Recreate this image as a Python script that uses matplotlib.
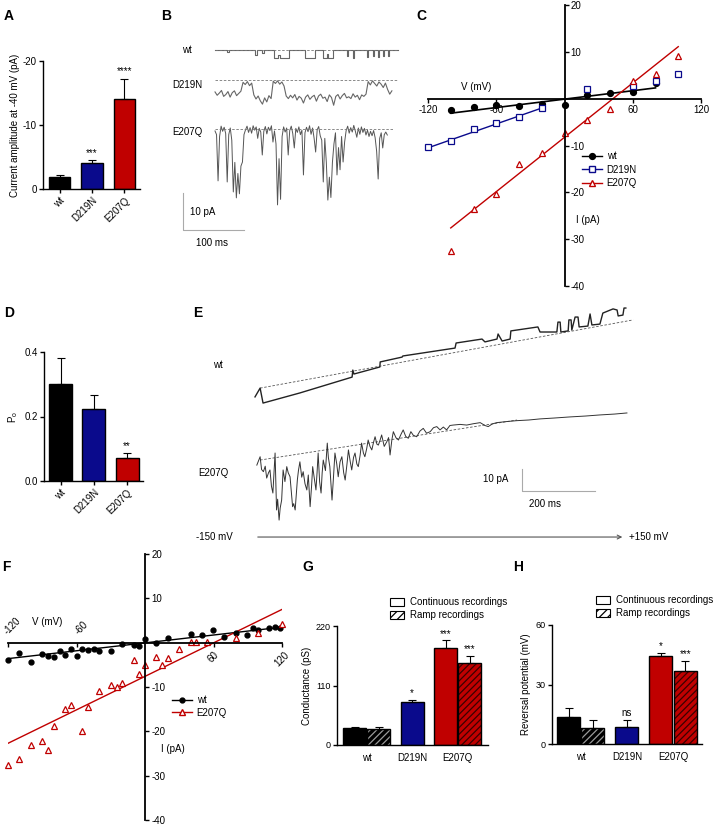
import numpy as np
import matplotlib
matplotlib.use('Agg')
import matplotlib.pyplot as plt
from matplotlib.lines import Line2D
from matplotlib.patches import Patch

plt.rcParams['font.family'] = ['Liberation Sans', 'DejaVu Sans']
plt.rcParams['font.size'] = 7
plt.rcParams['axes.linewidth'] = 1.0
plt.rcParams['axes.unicode_minus'] = False
plt.rcParams['hatch.linewidth'] = 0.9

W, H = 720, 826
BLACK, BLUE, RED = '#000000', '#0a0a8c', '#c00000'
cols = [BLACK, BLUE, RED]

# ---------------- data ----------------
groups = ['wt', 'D219N', 'E207Q']

# A: current amplitude at -40 mV (pA)
amp_mean = [-1.8, -4.1, -14.1]
amp_err = [0.4, 0.4, 3.1]
amp_stars = ['', '***', '****']

# B: single channel traces (ms, pA)
b_wt_t = [0, 20, 23, 66, 69, 77, 80, 97, 104, 106, 121, 148, 164, 177, 184, 186,
          193, 216, 218, 226, 228, 249, 251, 259, 261, 267, 269, 275, 277, 284, 286, 300]
b_wt_i = [0, -0.6, 0, -1.3, 0, -0.8, 0, -2.2, -1.2, -2.2, 0, -2.2, 0, -2.2, -1.0, -2.2,
          0, -1.5, 0, -2.0, 0, -1.8, 0, -1.5, 0, -1.8, 0, -1.5, 0, -1.5, 0, 0]
b_d219n = [-3.2, -4.1, -3.5, -2.8, -4.4, -3.9, -3.1, -4.6, -3.4, -2.9, -4.2, -3.6, -3.0,
           -0.6, -1.2, -0.4, -1.5, -0.8,
           -4.0, -5.1, -4.3, -5.6, -6.5, -4.8, -5.9, -4.2, -5.0,
           -0.3, -0.9, -0.2, -1.1, -0.5, -1.6,
           -4.3, -5.0, -4.1, -4.8, -3.9, -5.4, -4.4, -4.9, -6.2, -4.6, -4.0, -5.2, -4.5,
           -4.1, -5.7, -4.3, -3.8, -4.9, -4.6, -5.8, -4.0, -4.7, -6.8, -4.4, -3.9, -5.1,
           -4.2, -3.6, -4.8, -4.5, -5.0, -3.7, -4.6, -4.1, -5.3, -4.0, -4.4, -3.8,
           -0.4, -1.3, -0.2, -0.9, -1.6, -0.5, -1.1, -2.0, -0.8,
           -2.5, -3.8, -2.9]
b_e207q = [-0.5, -1.5, -14, -2, 0.8, -0.6, 0.5, -1.2, -14.3, -1.5, 0.3, -3, -17, -9,
           -18.6, -12, -17.5, -10, -8.9, -1.5, -0.2, 0.8, -0.9, 0.4, -1.1, 0.9, -0.3,
           0.6, -2.5, 0.2, -0.8, -7, -0.6, 0.7, -1.3, 0.5, -0.4, 0.9, -3.5, -0.5, -4,
           -20.5, -8, -19, -2, 0.6, -0.8, 0.3, -7, -0.4, 0.8, -1.2, -5.1, 0.2, -0.9,
           0.6, -1.5, -0.3, -12.4, -1, 0.5, -0.7, 0.9, -1.4, 0.3, -2.5, -6.2, -0.2,
           0.7, -1.8, -3, -14.3, -2.5, -9, -19.2, -13, -18.5, -9, -4, -1, -12.4, -5,
           -11, -2, -8.9, -3.5, -0.4, 0.8, -1.1, 0.4, -0.8, 1.0, -0.5, -2.2, 0.3,
           -1.4, 0.6, -0.9, 0.2, -1.6, -0.3, -2.0, -0.6, -1.8, -0.4, -2.3, -6, -13.5,
           -2.5, -1, -5.1, -1.5, -0.8, -1.6]

# C: I-V relationship, continuous recordings
c_wt_v = [-100, -80, -60, -40, -20, 0, 20, 40, 60, 80]
c_wt_i = [-2.4, -1.8, -1.4, -1.6, -1.2, -1.35, 0.85, 1.3, 1.5, 3.4]
c_wt_fit = ([-100, 80], [-3.1, 2.3])
c_d_v = [-120, -100, -80, -60, -40, -20, 20, 60, 80, 100]
c_d_i = [-10.3, -9.0, -6.5, -5.3, -3.9, -1.9, 2.1, 2.8, 3.7, 5.2]
c_d_fit = ([-120, -20], [-10.5, -2.0])
c_e_v = [-100, -80, -60, -40, -20, 0, 20, 40, 60, 80, 100]
c_e_i = [-32.5, -23.5, -20.4, -13.9, -11.6, -7.3, -4.6, -2.3, 3.8, 5.3, 9.2]
c_e_fit = ([-100, 100], [-27.6, 11.1])

# D: open probability
po_mean = [0.302, 0.224, 0.070]
po_err = [0.080, 0.043, 0.016]
po_stars = ['', '', '**']

# E: ramp traces (ms, pA)
e_wt_t = [0, 14, 22, 123, 266, 268, 271, 342, 343, 403, 405, 548, 551, 622, 630, 663,
          666, 677, 699, 701, 775, 781, 827, 830, 836, 838, 858, 860, 866, 868, 877, 885,
          888, 912, 918, 923, 945, 953, 981, 992, 995, 1008, 1011, 1016]
e_wt_i = [60.5, 64.5, 57.7, 62.3, 69.5, 72.7, 70.9, 74.1, 76.4, 78.6, 79.1, 82.7, 85.0,
          86.8, 85.5, 86.8, 89.1, 85.9, 86.8, 90.5, 92.3, 90.0, 90.0, 94.5, 94.5, 90.0,
          90.5, 95.5, 95.5, 90.9, 96.8, 96.8, 92.3, 92.7, 98.2, 93.2, 93.6, 98.6, 100.5,
          100.0, 97.3, 97.7, 100.9, 100.9]
e_wt_base = ([14, 1036], [64.5, 95.5])
e_mut_t = [5, 14, 18, 23, 28, 32, 37, 41, 45, 49, 55, 59, 62, 66, 69, 73, 77, 82, 87, 91,
           96, 103, 106, 110, 116, 119, 123, 128, 132, 137, 142, 146, 151, 155, 158, 162,
           167, 170, 173, 177, 181, 184, 187, 193, 198, 201, 205, 211, 215, 219, 224, 228,
           233, 238, 243, 247, 252, 256, 261, 265, 270, 274, 279, 283, 288, 292, 297, 301,
           306, 310, 315, 320, 325, 329, 334, 338, 343, 347, 354, 361, 366, 370, 375, 379,
           386, 393, 400, 406, 413, 420, 427, 434, 443, 452, 461, 470, 480, 489, 498, 507,
           516, 525, 534, 543, 562, 580, 598, 617, 630, 639, 650, 662, 690, 717, 750, 781,
           820, 863, 905, 945, 985, 1019]
e_mut_i = [29.5, 33.3, 27.5, 26.5, 29.0, 23.6, 26.0, 27.3, 20.0, 16.8, 35.0, 9.1, 14.0,
           4.5, 10.0, 13.6, 27.3, 22.0, 28.8, 26.0, 24.2, 10.6, 12.0, 9.1, 22.7, 27.0,
           31.0, 24.0, 26.5, 21.0, 18.2, 25.0, 10.6, 20.0, 28.8, 24.0, 18.2, 26.0, 35.0,
           22.0, 16.8, 26.0, 31.8, 27.0, 39.5, 33.0, 28.8, 13.6, 24.0, 35.0, 30.0, 24.2,
           31.0, 33.3, 26.0, 22.7, 30.0, 36.4, 31.0, 27.3, 33.0, 35.0, 30.0, 28.8, 34.0,
           39.5, 35.0, 33.3, 37.0, 40.9, 38.0, 36.4, 40.0, 42.4, 39.0, 38.6, 41.0, 43.2,
           38.0, 40.1, 42.0, 34.1, 41.0, 44.7, 42.0, 40.9, 43.5, 45.5, 42.5, 41.7, 44.7,
           43.0, 42.4, 45.0, 46.2, 44.0, 44.7, 46.5, 47.0, 45.5, 46.8, 45.5, 47.5, 47.7,
           48.0, 47.7, 48.3, 48.8, 47.5, 47.0, 48.2, 48.8, 49.3, 49.7, 50.0, 50.5, 50.9,
           51.4, 51.8, 52.3, 52.7, 53.2]
e_mut_base = ([14, 718], [31.8, 50.0])

# F: I-V relationship from ramps
f_wt_v = [-120, -110, -99.7, -89.8, -85, -80, -74.6, -69.7, -65, -60, -55, -50, -44.8,
          -40, -30, -20, -10, -5, 0, 9.7, 19.9, 40, 49.8, 59.4, 69.4, 79.3, 89.3, 94.5,
          99.2, 109, 114, 118.5]
f_wt_i = [-3.8, -2.3, -4.4, -2.6, -3.0, -3.2, -1.9, -2.7, -1.4, -2.9, -1.5, -1.65, -1.35,
          -1.8, -1.8, -0.3, -0.6, -0.8, 0.9, -0.1, 1.1, 2.0, 1.65, 2.8, 1.3, 2.25, 1.65,
          3.2, 2.8, 3.4, 3.6, 3.4]
f_wt_fit = ([-120, 120], [-3.6, 3.5])
f_e_v = [-120, -110, -99.5, -89.8, -85, -80, -69.7, -65, -55, -50, -40, -29.9, -24.9,
         -19.9, -10, -5, 0, 9.7, 15, 19.9, 30, 40, 44.8, 54.7, 79.3, 99.2, 120]
f_e_i = [-27.5, -26.2, -23.0, -22.2, -24.1, -18.8, -14.9, -14.1, -20.0, -14.6, -10.8,
         -9.5, -10.0, -9.2, -3.9, -7.0, -5.1, -3.2, -5.0, -3.5, -1.5, 0.15, 0.15, 0.15,
         1.05, 2.2, 4.1]
f_e_fit = ([-120, 120], [-22.7, 7.5])

# G / H: conductance and reversal potential
g_cont = [30.9, 80.3, 179.8]
g_cont_err = [3.1, 3.1, 13.6]
g_ramp = [30.3, 151.4]
g_ramp_err = [2.4, 13.6]
g_cont_stars = ['', '*', '***']
g_ramp_stars = ['', '***']
h_cont = [13.7, 8.4, 44.4]
h_cont_err = [4.7, 3.5, 1.7]
h_ramp = [7.9, 36.7]
h_ramp_err = [4.0, 4.9]
h_cont_stars = ['', 'ns', '*']
h_ramp_stars = ['', '***']

# ---------------- layout helpers ----------------
fig = plt.figure(figsize=(W / 100, H / 100), dpi=100)


def box(x0, y0, x1, y1):
    return [x0 / W, 1 - y1 / H, (x1 - x0) / W, (y1 - y0) / H]


def ftext(x, y, s, **kw):
    fig.text(x / W, 1 - y / H, s, **kw)


def clean(ax):
    ax.spines['top'].set_visible(False)
    ax.spines['right'].set_visible(False)
    ax.tick_params(length=3, width=1, labelsize=7, pad=1.5)


for lab, x, y in [('A', 9, 16), ('B', 166, 16), ('C', 421, 16), ('D', 9, 313),
                  ('E', 198, 313), ('F', 6, 567), ('G', 308, 567), ('H', 518, 567)]:
    ftext(x, y, lab, fontsize=10, fontweight='bold', ha='center', va='center')

# ---------------- A ----------------
ax = fig.add_axes(box(43, 61, 140, 189))
xa = np.arange(3)
ax.bar(xa, amp_mean, width=0.65, color=cols, edgecolor='black', linewidth=1)
ax.errorbar(xa, amp_mean, yerr=[amp_err, [0] * 3], fmt='none', ecolor='black',
            elinewidth=0.8, capsize=3, capthick=0.8)
for x, m, e, s in zip(xa, amp_mean, amp_err, amp_stars):
    ax.text(x, m - e - 0.4, s, ha='center', va='bottom', fontsize=7)
ax.set_ylim(0, -20)
ax.set_xlim(-0.51, 2.48)
ax.set_yticks([0, -10, -20])
ax.set_xticks(xa)
ax.set_xticklabels(groups, rotation=45, ha='right', rotation_mode='anchor')
ax.set_ylabel('Current amplitude at -40 mV (pA)', fontsize=7, labelpad=2)
clean(ax)

# ---------------- B ----------------
ax = fig.add_axes(box(175, 40, 400, 250))
ax.axis('off')
ax.set_xlim(-65.6, 303.3)
ax.set_ylim(0, 56.8)
off_wt, off_d, off_e = 54.05, 45.95, 32.7
ax.plot(b_wt_t, np.array(b_wt_i) + off_wt, color='#666666', lw=0.8, drawstyle='steps-post')
td = np.linspace(0, 290, len(b_d219n))
ax.plot(td, np.array(b_d219n) + off_d, color='#666666', lw=0.8)
te = np.linspace(0, 282.5, len(b_e207q))
ax.plot(te, np.array(b_e207q) + off_e, color='#555555', lw=0.7)
for off, end in [(off_wt, 300), (off_d, 298), (off_e, 292)]:
    ax.plot([0, end], [off, off], color='#777777', lw=0.6, ls=(0, (3, 2)))
ax.plot([-52.5, -52.5, 47.5], [15.4, 5.4, 5.4], color='#aaaaaa', lw=0.8)
ax.text(-41, 10.3, '10 pA', fontsize=7, va='center', ha='left')
ax.text(-5, 1.9, '100 ms', fontsize=7, va='center', ha='center')
ftext(187, 50, 'wt', ha='center', va='center', fontsize=7)
ftext(187, 85, 'D219N', ha='center', va='center', fontsize=7)
ftext(187, 132, 'E207Q', ha='center', va='center', fontsize=7)


def center_axes(ax):
    ax.spines['left'].set_visible(False)
    ax.spines['top'].set_visible(False)
    ax.spines['right'].set_position(('data', 0))
    ax.spines['bottom'].set_position(('data', 0))
    ax.spines['right'].set_linewidth(1.3)
    ax.spines['bottom'].set_linewidth(1.3)
    ax.yaxis.set_ticks_position('right')
    ax.xaxis.set_ticks_position('bottom')
    ax.tick_params(length=3, width=1, labelsize=7, pad=1.5)
    ax.patch.set_alpha(0)


# ---------------- C ----------------
ax = fig.add_axes(box(428, 5, 701, 286))
center_axes(ax)
ax.set_xlim(-120, 120)
ax.set_ylim(-40, 20)
ax.set_xticks([-120, -60, 60, 120])
ax.set_yticks([-40, -30, -20, -10, 10, 20])
ax.plot(*c_wt_fit, color=BLACK, lw=1.2)
ax.plot(*c_d_fit, color=BLUE, lw=1.0)
ax.plot(*c_e_fit, color=RED, lw=1.0)
ax.plot(c_wt_v, c_wt_i, 'o', color=BLACK, ms=4.2, clip_on=False)
ax.plot(c_d_v, c_d_i, 's', mfc='white', mec=BLUE, mew=0.9, ms=4.2, clip_on=False)
ax.plot(c_e_v, c_e_i, '^', mfc='white', mec=RED, mew=0.9, ms=4.2, clip_on=False)
ax.text(-78, 1.5, 'V (mV)', ha='center', va='bottom', fontsize=7)
ax.text(10, -26, 'I (pA)', ha='left', va='center', fontsize=7)
hnd = [Line2D([], [], color=BLACK, marker='o', ms=4.2, lw=1),
       Line2D([], [], color=BLUE, marker='s', mfc='white', ms=4.2, lw=1),
       Line2D([], [], color=RED, marker='^', mfc='white', ms=4.2, lw=1)]
ax.legend(hnd, groups, loc='upper left', bbox_to_anchor=(0.565, 0.48), frameon=False,
          fontsize=7, handlelength=2.0, borderpad=0, borderaxespad=0,
          labelspacing=0.35, handletextpad=0.5)

# ---------------- D ----------------
ax = fig.add_axes(box(44, 352, 143, 481))
ax.bar(xa, po_mean, width=0.69, color=cols, edgecolor='black', linewidth=1)
ax.errorbar(xa, po_mean, yerr=[[0] * 3, po_err], fmt='none', ecolor='black',
            elinewidth=0.8, capsize=3, capthick=0.8)
for x, m, e, s in zip(xa, po_mean, po_err, po_stars):
    ax.text(x, m + e + 0.006, s, ha='center', va='bottom', fontsize=7)
ax.set_ylim(0, 0.4)
ax.set_xlim(-0.5, 2.48)
ax.set_yticks([0.0, 0.2, 0.4])
ax.set_yticklabels(['0.0', '0.2', '0.4'])
ax.set_xticks(xa)
ax.set_xticklabels(groups, rotation=45, ha='right', rotation_mode='anchor')
ax.set_ylabel('P$_\\mathregular{o}$', fontsize=7, labelpad=3)
clean(ax)

# ---------------- E ----------------
ax = fig.add_axes(box(190, 300, 700, 560))
ax.axis('off')
ax.set_xlim(-178.1, 1219.2)
ax.set_ylim(-13.64, 104.55)
ax.plot(*e_wt_base, color='#555555', lw=0.6, ls=(0, (3, 2)))
ax.plot(*e_mut_base, color='#555555', lw=0.6, ls=(0, (3, 2)))
ax.plot(e_wt_t, e_wt_i, color='#222222', lw=1.0)
ax.plot(e_mut_t, e_mut_i, color='#333333', lw=0.7)
ax.plot([731.5, 731.5, 931.5], [27.7, 17.7, 17.7], color='#aaaaaa', lw=0.8)
ax.text(693, 23.2, '10 pA', ha='right', va='center', fontsize=7)
ax.text(795, 11.8, '200 ms', ha='center', va='center', fontsize=7)
ax.annotate('', xy=(1014, -3.2), xytext=(0, -3.2),
            arrowprops=dict(arrowstyle='->', color='#555555', lw=0.8))
ax.text(-110, -3.2, '-150 mV', ha='center', va='center', fontsize=7)
ax.text(1025, -3.2, '+150 mV', ha='left', va='center', fontsize=7)
ftext(218, 365, 'wt', ha='center', va='center', fontsize=7)
ftext(213, 473, 'E207Q', ha='center', va='center', fontsize=7)

# ---------------- F ----------------
ax = fig.add_axes(box(8, 554, 282, 820))
center_axes(ax)
ax.set_xlim(-120, 120)
ax.set_ylim(-40, 20)
fx_ticks = [-120, -60, 60, 120]
ax.set_xticks(fx_ticks)
ax.set_xticklabels([])
ax.set_yticks([-40, -30, -20, -10, 10, 20])
for v in fx_ticks:
    if v < 0:
        ax.text(v + 4, 1.5, str(v), rotation=45, ha='center', va='bottom', fontsize=7)
    else:
        ax.text(v, -1.6, str(v), rotation=45, ha='center', va='top', fontsize=7)
ax.plot(*f_wt_fit, color=BLACK, lw=1.0)
ax.plot(*f_e_fit, color=RED, lw=1.0)
ax.plot(f_wt_v, f_wt_i, 'o', color=BLACK, ms=3.5, clip_on=False)
ax.plot(f_e_v, f_e_i, '^', mfc='white', mec=RED, mew=0.9, ms=4, clip_on=False)
ax.text(-86, 4.7, 'V (mV)', ha='center', va='center', fontsize=7)
ax.text(14, -23.9, 'I (pA)', ha='left', va='center', fontsize=7)
hnd = [Line2D([], [], color=BLACK, marker='o', ms=3.5, lw=1),
       Line2D([], [], color=RED, marker='^', mfc='white', ms=4, lw=1)]
ax.legend(hnd, ['wt', 'E207Q'], loc='upper left', bbox_to_anchor=(0.6, 0.47),
          frameon=False, fontsize=7, handlelength=2.0, borderpad=0, borderaxespad=0,
          labelspacing=0.3, handletextpad=0.5)


# ---------------- G / H ----------------
def paired_bars(ax, cont, cont_err, ramp, ramp_err, s_cont, s_ramp, spad):
    xc = [0, 2.4, 3.8]
    xr = [1, 4.8]
    cc = [BLACK, BLUE, RED]
    rc = [BLACK, RED]
    hc = ['#9a9a9a', '#3a0000']
    ax.bar(xc, cont, width=0.95, color=cc, edgecolor='black', linewidth=1)
    ax.bar(xr, ramp, width=0.95, color=rc, edgecolor=hc, hatch='/////', linewidth=0)
    ax.bar(xr, ramp, width=0.95, fill=False, edgecolor='black', linewidth=1)
    ax.errorbar(xc, cont, yerr=[[0] * 3, cont_err], fmt='none', ecolor='black',
                elinewidth=0.8, capsize=3, capthick=0.8)
    ax.errorbar(xr, ramp, yerr=[[0] * 2, ramp_err], fmt='none', ecolor='black',
                elinewidth=0.8, capsize=3, capthick=0.8)
    for x, m, e, s in zip(xc, cont, cont_err, s_cont):
        ax.text(x, m + e + spad, s, ha='center', va='bottom', fontsize=7)
    for x, m, e, s in zip(xr, ramp, ramp_err, s_ramp):
        ax.text(x, m + e + spad, s, ha='center', va='bottom', fontsize=7)
    ax.set_xticks([0.5, 2.4, 4.3])
    ax.set_xticklabels(groups)
    clean(ax)
    ax.tick_params(axis='x', length=0, pad=6)
    ax.tick_params(axis='y', labelsize=6.5)
    hnd = [Patch(facecolor='white', edgecolor='black', linewidth=0.8),
           Patch(facecolor='white', edgecolor='black', hatch='////', linewidth=0.8)]
    return hnd


ax = fig.add_axes(box(337, 626, 488, 745))
hnd = paired_bars(ax, g_cont, g_cont_err, g_ramp, g_ramp_err,
                  g_cont_stars, g_ramp_stars, 3)
ax.set_xlim(-0.73, 5.56)
ax.set_ylim(0, 220)
ax.set_yticks([0, 110, 220])
ax.set_ylabel('Conductance (pS)', fontsize=7, labelpad=3)
ax.legend(hnd, ['Continuous recordings', 'Ramp recordings'], loc='upper left',
          bbox_to_anchor=(0.35, 1.24), frameon=False, fontsize=7, handlelength=1.5,
          handleheight=0.8, borderpad=0, borderaxespad=0, labelspacing=0.3,
          handletextpad=0.6)

ax = fig.add_axes(box(552, 625, 702, 744))
hnd = paired_bars(ax, h_cont, h_cont_err, h_ramp, h_ramp_err,
                  h_cont_stars, h_ramp_stars, 1)
ax.set_xlim(-0.68, 5.49)
ax.set_ylim(0, 60)
ax.set_yticks([0, 30, 60])
ax.set_ylabel('Reversal potential (mV)', fontsize=7, labelpad=3)
ax.legend(hnd, ['Continuous recordings', 'Ramp recordings'], loc='upper left',
          bbox_to_anchor=(0.29, 1.25), frameon=False, fontsize=7, handlelength=1.5,
          handleheight=0.8, borderpad=0, borderaxespad=0, labelspacing=0.3,
          handletextpad=0.6)

fig.savefig('out.png', dpi=100)
